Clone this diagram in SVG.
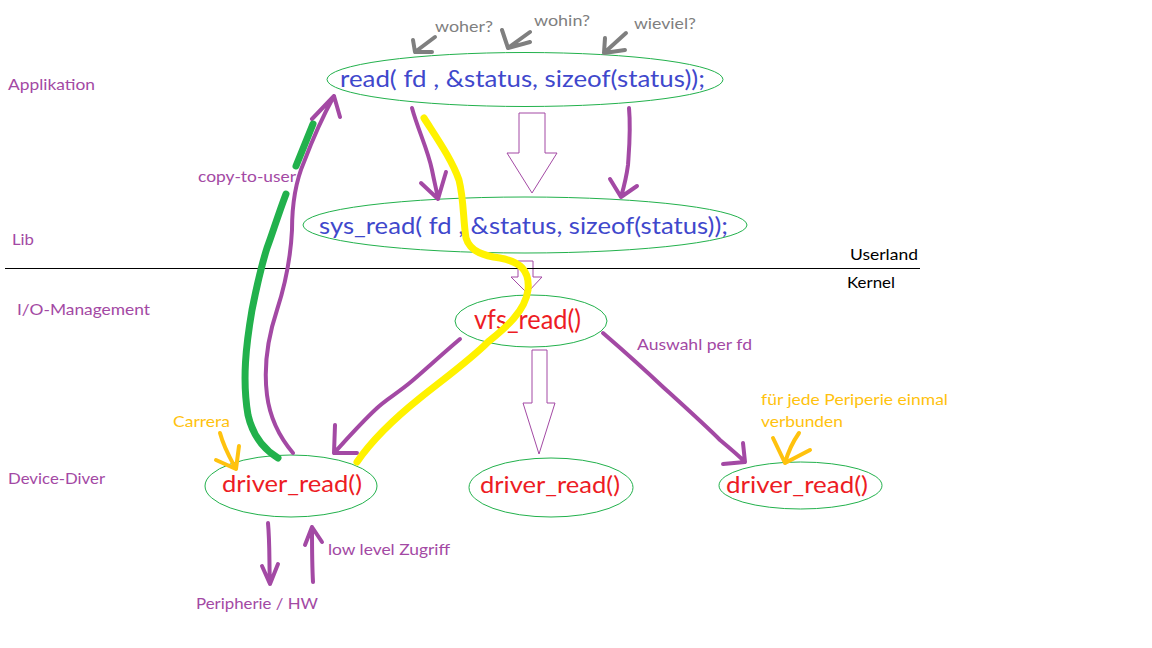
<svg xmlns="http://www.w3.org/2000/svg" width="1152" height="648" viewBox="0 0 1152 648">
<style>
  .lbl{font-family:"Lato","Open Sans","Liberation Sans",sans-serif;font-size:16px}
  .big{font-family:"Lato","Open Sans","Liberation Sans",sans-serif;font-size:24px}
  .purple{fill:#a349a4}
  .gray{fill:#7f7f7f}
  .orange{fill:#ffc20e}
  .blue{fill:#3f48cc}
  .red{fill:#ed1c24}
  .blk{fill:#000}
  .node{fill:none;stroke:#22b14c;stroke-width:1}
  .hollow{fill:#fff;stroke:#a349a4;stroke-width:1}
  .pstroke{fill:none;stroke:#a349a4;stroke-width:4;stroke-linecap:round;stroke-linejoin:round}
  .gstroke{fill:none;stroke:#7f7f7f;stroke-width:4;stroke-linecap:round;stroke-linejoin:round}
  .ostroke{fill:none;stroke:#ffc20e;stroke-width:4;stroke-linecap:round;stroke-linejoin:round}
  .green{fill:none;stroke:#22b14c;stroke-width:7;stroke-linecap:round;stroke-linejoin:round}
  .yellow{fill:none;stroke:#fff200;stroke-width:7;stroke-linecap:round;stroke-linejoin:round}
</style>
<rect width="1152" height="648" fill="#fff"/>

<g id="layer-labels">
  <text class="lbl purple" x="8" y="90" textLength="87" lengthAdjust="spacingAndGlyphs">Applikation</text>
  <text class="lbl purple" x="12" y="245" textLength="22" lengthAdjust="spacingAndGlyphs">Lib</text>
  <text class="lbl purple" x="17" y="315" textLength="133" lengthAdjust="spacingAndGlyphs">I/O-Management</text>
  <text class="lbl purple" x="8" y="484" textLength="97" lengthAdjust="spacingAndGlyphs">Device-Diver</text>
</g>

<g id="node-read">
  <ellipse class="node" cx="525" cy="79.5" rx="198" ry="27"/>
  <text class="big blue" x="340" y="87" textLength="365" lengthAdjust="spacingAndGlyphs">read( fd , &amp;status, sizeof(status));</text>
</g>
<g id="node-sys_read">
  <ellipse class="node" cx="525" cy="225" rx="222" ry="28"/>
  <text class="big blue" x="319" y="234" textLength="409" lengthAdjust="spacingAndGlyphs">sys_read( fd , &amp;status, sizeof(status));</text>
</g>
<g id="node-vfs_read">
  <ellipse class="node" cx="531" cy="321" rx="76" ry="26"/>
  <text class="big red" x="474" y="329" textLength="107" lengthAdjust="spacingAndGlyphs" style="font-size:26px">vfs_read()</text>
</g>
<g id="node-driver1">
  <ellipse class="node" cx="291" cy="486" rx="86" ry="31"/>
  <text class="big red" x="222" y="492" textLength="140" lengthAdjust="spacingAndGlyphs">driver_read()</text>
</g>
<g id="node-driver2">
  <ellipse class="node" cx="551" cy="487.5" rx="82" ry="29.5"/>
  <text class="big red" x="480" y="493" textLength="140" lengthAdjust="spacingAndGlyphs">driver_read()</text>
</g>
<g id="node-driver3">
  <ellipse class="node" cx="800.5" cy="485.5" rx="81.5" ry="23.5"/>
  <text class="big red" x="726" y="493" textLength="142" lengthAdjust="spacingAndGlyphs">driver_read()</text>
</g>

<g id="annotations">
  <text class="lbl gray" x="435" y="32" textLength="58" lengthAdjust="spacingAndGlyphs">woher?</text>
  <text class="lbl gray" x="534" y="26" textLength="56" lengthAdjust="spacingAndGlyphs">wohin?</text>
  <text class="lbl gray" x="634" y="29" textLength="62" lengthAdjust="spacingAndGlyphs">wieviel?</text>
  <text class="lbl purple" x="198" y="182" textLength="98" lengthAdjust="spacingAndGlyphs">copy-to-user</text>
  <text class="lbl orange" x="173" y="427" textLength="57" lengthAdjust="spacingAndGlyphs">Carrera</text>
  <text class="lbl purple" x="328" y="555" textLength="122" lengthAdjust="spacingAndGlyphs">low level Zugriff</text>
  <text class="lbl purple" x="196" y="609" textLength="122" lengthAdjust="spacingAndGlyphs">Peripherie / HW</text>
  <text class="lbl purple" x="637" y="350" textLength="115" lengthAdjust="spacingAndGlyphs">Auswahl per fd</text>
  <text class="lbl orange" x="761" y="405" textLength="187" lengthAdjust="spacingAndGlyphs">für jede Periperie einmal</text>
  <text class="lbl orange" x="761" y="427" textLength="82" lengthAdjust="spacingAndGlyphs">verbunden</text>
  <text class="lbl blk" x="850" y="260" textLength="68" lengthAdjust="spacingAndGlyphs">Userland</text>
  <text class="lbl blk" x="847" y="288" textLength="48" lengthAdjust="spacingAndGlyphs">Kernel</text>
</g>

<g id="connectors">
  <!-- hollow block arrows -->
  <path class="hollow" d="M519,113 H545 V153 H557 L532,193 L507,153 H519 Z"/>
  <path class="hollow" d="M518,261 H533 V277 H542 L527,293 L511,277 H518 Z"/>
  <path class="hollow" d="M532,350 H547 V403 H555 L539,454 L523,403 H532 Z"/>

  <!-- userland / kernel boundary -->
  <line x1="5" y1="268.5" x2="920" y2="268.5" stroke="#000" stroke-width="1"/>

  <!-- gray question arrows -->
  <path class="gstroke" d="M435,37 L415,52 M413,40 L415,52 L432,52"/>
  <path class="gstroke" d="M530,32 L508,48 M502,30 L508,48 L530,42"/>
  <path class="gstroke" d="M626,33 L604,53 M605,38 L604,53 L625,50"/>

  <!-- purple arrows read -> sys_read -->
  <path class="pstroke" d="M412,108 C418,130 428,150 432,170 C435,185 437,192 438,199 M421,183 L438,199 L446,172"/>
  <path class="pstroke" d="M629,108 C631,130 629,150 628,165 C626,180 623,190 621,197 M610,179 L621,197 L637,186"/>

  <!-- purple return arrow driver -> read -->
  <path class="pstroke" d="M293,453 Q271,427 267,395 Q262,355 277,310 Q290,270 292,230 Q292,190 304,162 Q318,125 334,96 M312,119 L334,96 L340,117"/>

  <!-- vfs -> driver1 -->
  <path class="pstroke" d="M460,339 C440,356 425,370 412,381 C398,393 385,400 376,409 C360,424 346,440 334,453 M335,425 L334,453 L357,453"/>
  <!-- vfs -> driver3 -->
  <path class="pstroke" d="M603,333 C625,352 645,370 663,387 C685,407 705,425 720,440 C732,450 740,457 745,462 M743,443 L745,462 L723,464"/>

  <!-- hardware access -->
  <path class="pstroke" d="M268,523 C270,545 269,565 270,584 M262,566 L270,584 L278,564"/>
  <path class="pstroke" d="M313,582 C312,565 312,545 312,527 M305,545 L312,527 L322,542"/>

  <!-- orange pointers -->
  <path class="ostroke" d="M220,433 C224,448 230,458 236,469 M216,460 L236,469 L239,446"/>
  <path class="ostroke" d="M799,433 C792,443 788,452 785,463 M773,438 L785,463 L810,450"/>

  <!-- green copy-to-user trace -->
  <path class="green" d="M313,124 L296,166"/>
  <path class="green" d="M286,194 C278,215 272,235 267,248 C260,270 256,290 252,310 C246,345 242,380 248,415 C253,437 265,450 278,458"/>

  <!-- yellow highlighted path -->
  <path class="yellow" d="M424,118 C438,140 452,160 459,180 C464,200 463,220 466,238 C470,252 485,256 500,258 C520,262 530,270 528,290 C525,312 505,328 488,342 C470,360 445,378 420,398 C395,418 372,440 357,462"/>
</g>
</svg>
